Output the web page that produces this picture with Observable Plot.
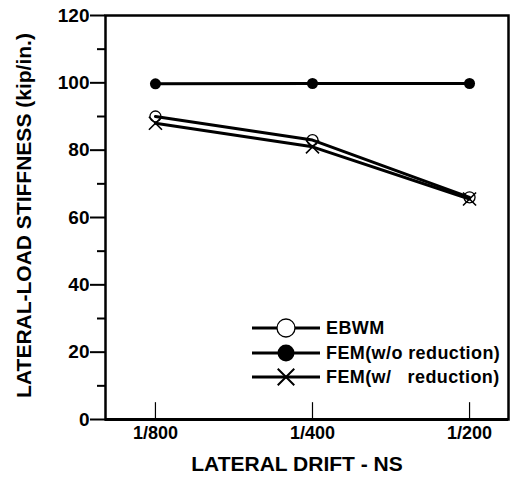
<!DOCTYPE html>
<html><head><meta charset="utf-8">
<script src="https://cdn.jsdelivr.net/npm/d3@7"></script>
<script src="https://cdn.jsdelivr.net/npm/@observablehq/plot@0.6"></script>
<style>
body{margin:0;background:#fff}
#chart svg{font-family:"Liberation Sans",Arial,sans-serif;font-weight:bold}
</style></head>
<body><div id="chart"></div>
<script>
const drifts = ["1/800", "1/400", "1/200"];
const ebwm = [90, 83, 66];
const femNoRed = [99.7, 99.8, 99.8];
const femRed = [88, 81, 65.5];
const yMajor = [0, 20, 40, 60, 80, 100, 120];
const yMinor = [10, 30, 50, 70, 90, 110];
const seriesNames = ["EBWM", "FEM(w/o reduction)", "FEM(w/   reduction)"];
const xTitle = "LATERAL DRIFT - NS";
const yTitle = "LATERAL-LOAD STIFFNESS (kip/in.)";

const idx = drifts.map((d, i) => i);
const rows = [];
[ebwm, femNoRed, femRed].forEach((vals, s) => vals.forEach((v, i) => rows.push({s: seriesNames[s], i, v})));
const ser = k => rows.filter(r => r.s === seriesNames[k]);

const plot = Plot.plot({
  width: 510, height: 478,
  marginLeft: 105, marginRight: 2, marginTop: 15, marginBottom: 59,
  style: {fontFamily: "Liberation Sans, Arial, sans-serif", fontWeight: "bold", fontSize: "17px", color: "#000", background: "#fff"},
  x: {type: "linear", domain: [-0.318, 2.248]},
  y: {domain: [0, 120]},
  marks: [
    Plot.frame({stroke: "#000", strokeWidth: 2.5}),
    Plot.ruleY([0], {stroke: "#000", strokeWidth: 3}),
    Plot.axisY({ticks: yMajor, tickSize: 15, tickPadding: 1, strokeWidth: 2, fontSize: 19, label: null, style: {letterSpacing: "1.5px"}}),
    Plot.axisY({ticks: yMinor, tickSize: 8, strokeWidth: 2, text: null, label: null}),
    Plot.axisX({ticks: idx, tickFormat: i => drifts[i], tickSize: 0, tickPadding: 7, fontSize: 18, label: null, style: {letterSpacing: "0.5px"}}),
    Plot.ruleX(idx, {x: d => d, y1: 0, y2: 5, stroke: "#000", strokeWidth: 1.2}),
    Plot.line(ser(0), {x: "i", y: "v", stroke: "#000", strokeWidth: 3}),
    Plot.line(ser(1), {x: "i", y: "v", stroke: "#000", strokeWidth: 3}),
    Plot.line(ser(2), {x: "i", y: "v", stroke: "#000", strokeWidth: 3}),
    Plot.dot(ser(2), {x: "i", y: "v", symbol: "times", r: 6, stroke: "#000", strokeWidth: 1.6}),
    Plot.dot(ser(0), {x: "i", y: "v", symbol: "circle", r: 5.5, fill: "none", stroke: "#000", strokeWidth: 1.3}),
    Plot.dot(ser(1), {x: "i", y: "v", symbol: "circle", r: 5.5, fill: "#000", stroke: "none"}),
    Plot.text([xTitle], {frameAnchor: "bottom", dx: -10, dy: 51, fontSize: 21, fontWeight: "bold", style: {letterSpacing: "1.4px"}}),
    Plot.text([yTitle], {frameAnchor: "left", textAnchor: "middle", dx: -81, dy: -2, rotate: -90, fontSize: 21, fontWeight: "bold", style: {letterSpacing: "0.85px"}})
  ]
});
document.getElementById("chart").append(plot);

// legend inside the plot area
const svg = d3.select(plot);
const lg = svg.append("g").attr("class", "legend");
const rowsY = [328, 353, 377];
seriesNames.forEach((name, k) => {
  const y = rowsY[k];
  const g = lg.append("g");
  g.append("line").attr("x1", 252).attr("x2", 320).attr("y1", y).attr("y2", y).attr("stroke", "#000").attr("stroke-width", 3);
  if (k === 0) g.append("circle").attr("cx", 286).attr("cy", y).attr("r", 9).attr("fill", "#fff").attr("stroke", "#000").attr("stroke-width", 1.3);
  if (k === 1) g.append("circle").attr("cx", 286).attr("cy", y).attr("r", 8.5).attr("fill", "#000");
  if (k === 2) g.append("path").attr("d", d3.symbol(d3.symbolTimes, 180)()).attr("transform", `translate(286,${y})`).attr("stroke", "#000").attr("stroke-width", 2);
  g.append("text").attr("x", 326).attr("y", y).attr("dy", "0.36em").attr("font-size", 18).attr("font-weight", "bold")
    .attr("text-anchor", "start").attr("fill", "#000").style("white-space", "pre").style("letter-spacing", "0.4px").text(name);
});
</script>
</body></html>
